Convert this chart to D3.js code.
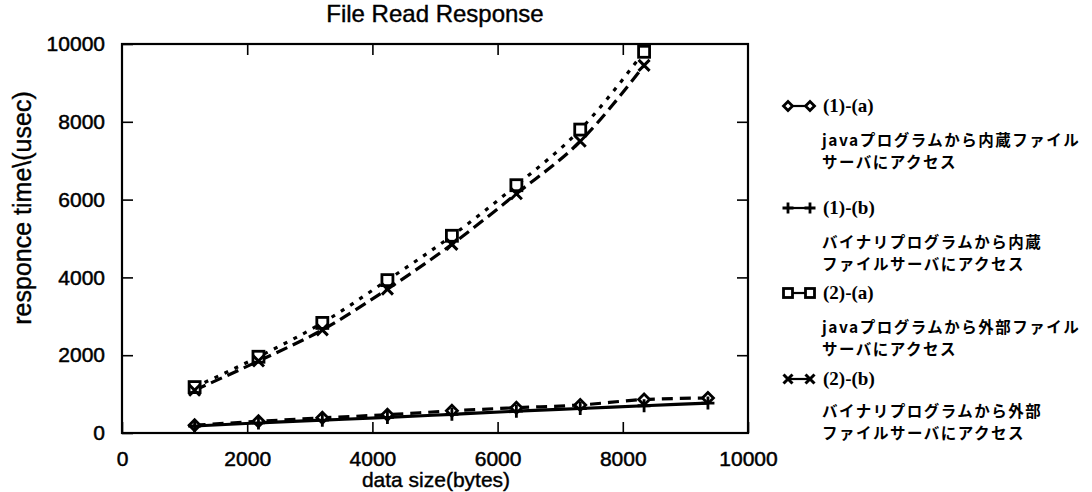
<!DOCTYPE html>
<html>
<head>
<meta charset="utf-8">
<script src="https://cdn.jsdelivr.net/npm/d3@7"></script>
<style>
  body { margin: 0; background: #fff; }
  svg { display: block; }
  .tick text { font-family: "Liberation Sans", Arial, sans-serif; font-size: 21px; fill: #000; stroke: #000; stroke-width: 0.5px; }
  .lbl { font-family: "Liberation Sans", Arial, sans-serif; fill: #000; stroke: #000; stroke-width: 0.4px; }
</style>
</head>
<body>
<svg id="chart" width="1092" height="492"></svg>
<script>
// données
var dataSize = [1160, 2180, 3200, 4240, 5270, 6300, 7320, 8340, 9360];
var serie1a = [200, 300, 390, 470, 570, 650, 720, 860, 900];   // (1)-(a)
var serie1b = [180, 260, 330, 400, 480, 560, 630, 700, 770];   // (1)-(b)
var serie2a = [1180, 1960, 2830, 3930, 5070, 6370, 7800, 9800]; // (2)-(a)
var serie2b = [1100, 1850, 2650, 3700, 4850, 6150, 7500, 9450]; // (2)-(b)
var xTicks = [0, 2000, 4000, 6000, 8000, 10000];
var yTicks = [0, 2000, 4000, 6000, 8000, 10000];

var series = [
  { name: "(1)-(a)", values: serie1a, marker: "diamond", dash: "11,7",
    lines: ["javaプログラムから内蔵ファイル", "サーバにアクセス"] },
  { name: "(1)-(b)", values: serie1b, marker: "plus", dash: null,
    lines: ["バイナリプログラムから内蔵", "ファイルサーバにアクセス"] },
  { name: "(2)-(a)", values: serie2a, marker: "square", dash: "4,7",
    lines: ["javaプログラムから外部ファイル", "サーバにアクセス"] },
  { name: "(2)-(b)", values: serie2b, marker: "cross", dash: "12,6",
    lines: ["バイナリプログラムから外部", "ファイルサーバにアクセス"] }
];

var svg = d3.select("#chart");
// attention : "top" est réservé (window.top)
var mLeft = 122, mRight = 748, mTop = 44, mBottom = 433;

var x = d3.scaleLinear().domain([0, 10000]).range([mLeft, mRight]);
var y = d3.scaleLinear().domain([0, 10000]).range([mBottom, mTop]);

// cadre
svg.append("rect")
  .attr("x", mLeft).attr("y", mTop)
  .attr("width", mRight - mLeft).attr("height", mBottom - mTop)
  .attr("fill", "none").attr("stroke", "#000").attr("stroke-width", 2.2);

// axes (graduations vers l'intérieur)
svg.append("g").attr("transform", "translate(0," + mBottom + ")")
  .call(d3.axisBottom(x).tickValues(xTicks).tickSize(-11).tickPadding(18).tickFormat(d3.format("d")))
  .call(g => g.select(".domain").remove())
  .call(g => g.selectAll("line").attr("stroke-width", 1.6));
svg.append("g").attr("transform", "translate(0," + mTop + ")")
  .call(d3.axisTop(x).tickValues(xTicks.slice(1, -1)).tickSize(-11).tickFormat(""))
  .call(g => g.select(".domain").remove())
  .call(g => g.selectAll("line").attr("stroke-width", 1.6));
svg.append("g").attr("transform", "translate(" + mLeft + ",0)")
  .call(d3.axisLeft(y).tickValues(yTicks).tickSize(-11).tickPadding(17).tickFormat(d3.format("d")))
  .call(g => g.select(".domain").remove())
  .call(g => g.selectAll("line").attr("stroke-width", 1.6));
svg.append("g").attr("transform", "translate(" + mRight + ",0)")
  .call(d3.axisRight(y).tickValues(yTicks.slice(1, -1)).tickSize(-11).tickFormat(""))
  .call(g => g.select(".domain").remove())
  .call(g => g.selectAll("line").attr("stroke-width", 1.6));

// titres
svg.append("text").attr("class", "lbl").attr("x", 435).attr("y", 22).attr("text-anchor", "middle")
  .style("font-size", "24px")
  .text("File Read Response");
svg.append("text").attr("class", "lbl").attr("x", 436).attr("y", 487).attr("text-anchor", "middle")
  .style("font-size", "21px")
  .text("data size(bytes)");
svg.append("text").attr("class", "lbl").attr("transform", "translate(31,208) rotate(-90)")
  .attr("text-anchor", "middle")
  .style("font-size", "25px")
  .text("responce time\\(usec)");

// symboles
function drawMarker(g, type, cx, cy, s) {
  s = s || 5.5;
  if (type === "diamond") {
    g.append("path").attr("d", "M" + (cx - s) + "," + cy + "L" + cx + "," + (cy - s) + "L" + (cx + s) + "," + cy + "L" + cx + "," + (cy + s) + "Z")
      .attr("fill", "#fff").attr("stroke", "#000").attr("stroke-width", 2.8);
  } else if (type === "square") {
    g.append("rect").attr("x", cx - s).attr("y", cy - s).attr("width", 2 * s).attr("height", 2 * s)
      .attr("fill", "#fff").attr("stroke", "#000").attr("stroke-width", 2.8);
  } else if (type === "plus") {
    g.append("path").attr("d", "M" + (cx - s - 1) + "," + cy + "H" + (cx + s + 1) + "M" + cx + "," + (cy - s - 1) + "V" + (cy + s + 1))
      .attr("stroke", "#000").attr("stroke-width", 2.8);
  } else {
    g.append("path").attr("d", "M" + (cx - s) + "," + (cy - s) + "L" + (cx + s) + "," + (cy + s) + "M" + (cx - s) + "," + (cy + s) + "L" + (cx + s) + "," + (cy - s))
      .attr("stroke", "#000").attr("stroke-width", 3);
  }
}

var line = d3.line()
  .x(d => x(d[0]))
  .y(d => y(d[1]))
  .curve(d3.curveMonotoneX);

var plot = svg.append("g");
series.forEach(function(s) {
  var pts = s.values.map((v, i) => [dataSize[i], v]);
  plot.append("path").datum(pts)
    .attr("d", line)
    .attr("fill", "none").attr("stroke", "#000").attr("stroke-width", 3.2)
    .attr("stroke-dasharray", s.dash);
});
series.forEach(function(s) {
  var g = plot.append("g");
  s.values.forEach((v, i) => drawMarker(g, s.marker, x(dataSize[i]), y(v)));
});

// légende
var legY = [106, 208, 293, 379];
var legend = svg.append("g");
series.forEach(function(s, i) {
  var ly = legY[i];
  legend.append("line").attr("x1", 788).attr("x2", 810).attr("y1", ly).attr("y2", ly)
    .attr("stroke", "#000").attr("stroke-width", 2.2);
  drawMarker(legend, s.marker, 788, ly, 4.5);
  drawMarker(legend, s.marker, 810, ly, 4.5);
  legend.append("text").attr("x", 823).attr("y", ly + 6)
    .style("font-family", "Liberation Serif, serif").style("font-weight", "bold").style("font-size", "19px")
    .text(s.name);
  var gap = (i === 3) ? 32 : 34;
  s.lines.forEach(function(t, j) {
    legend.append("text").attr("x", 822).attr("y", ly + gap + j * 22 + 6)
      .style("font-family", "Noto Sans CJK JP").style("font-weight", "bold").style("font-size", "15.5px")
      .style("letter-spacing", "1.5px")
      .text(t);
  });
});
</script>
</body>
</html>
